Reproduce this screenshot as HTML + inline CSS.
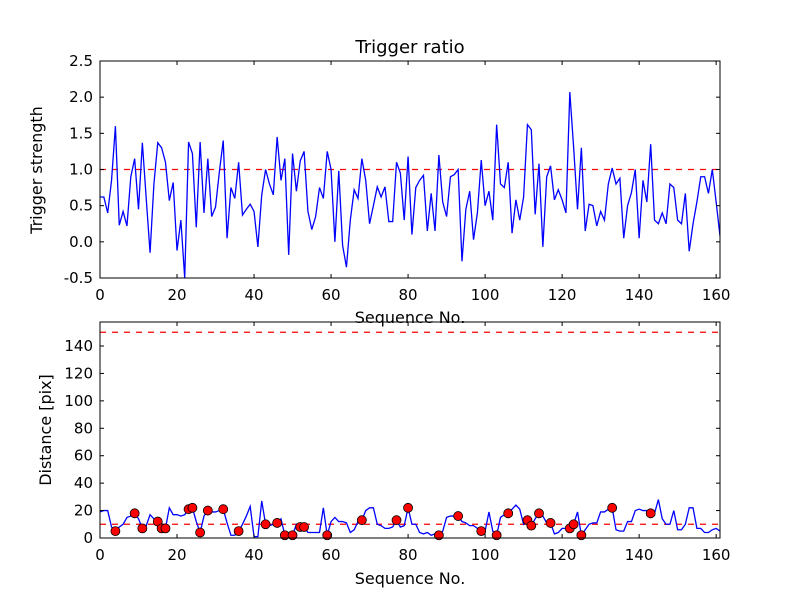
<!DOCTYPE html>
<html><head><meta charset="utf-8"><style>
body{margin:0;background:#fff;}
svg text{font-family:"DejaVu Sans","Liberation Sans",sans-serif;fill:#000;}
</style></head><body>
<svg id="c" width="800" height="600" xmlns="http://www.w3.org/2000/svg">
<rect width="800" height="600" fill="#fff"/>
</svg>
<script>
const strength=[0.62,0.62,0.4,0.85,1.6,0.23,0.42,0.22,0.9,1.15,0.45,1.37,0.6,-0.15,0.8,1.37,1.3,1.1,0.57,0.82,-0.12,0.3,-0.5,1.38,1.22,0.2,1.38,0.4,1.15,0.35,0.48,0.97,1.4,0.05,0.75,0.6,1.1,0.37,0.45,0.52,0.42,-0.07,0.65,1.0,0.8,0.65,1.45,0.85,1.15,-0.18,1.22,0.7,1.12,1.25,0.42,0.17,0.35,0.75,0.6,1.25,1.0,0.0,0.98,-0.05,-0.35,0.3,0.72,0.6,1.15,0.85,0.25,0.5,0.76,0.62,0.76,0.28,0.28,1.1,0.95,0.3,1.18,0.1,0.75,0.85,0.92,0.15,0.67,0.15,1.2,0.55,0.35,0.9,0.93,1.0,-0.27,0.45,0.7,0.03,0.4,1.13,0.5,0.7,0.3,1.62,0.8,0.75,1.1,0.12,0.58,0.3,0.62,1.62,1.55,0.38,1.08,-0.07,0.9,1.05,0.58,0.72,0.58,0.4,2.07,1.3,0.45,1.3,0.15,0.52,0.5,0.22,0.42,0.3,0.8,1.02,0.8,0.88,0.05,0.5,0.68,1.0,0.05,0.85,0.55,1.35,0.3,0.25,0.4,0.25,0.8,0.75,0.3,0.25,0.67,-0.13,0.25,0.55,0.9,0.9,0.67,1.0,0.55,0.08];
const distance=[19,20,20,8,5,8,10,15,16,18,14,7,9,17,14,12,7,7,22,17,17,16,17,21,22,12,4,16,20,19,19,20,21,11,2,2,5,10,16,23,1,1,27,10,9,10,11,14,2,3,2,10,8,8,4,4,4,4,22,2,12,15,12,12,11,4,6,12,13,20,22,22,10,9,7,7,8,13,8,9,22,10,10,4,3,4,2,3,2,5,15,16,16,16,12,11,9,9,7,5,5,19,5,2,15,17,18,21,24,21,10,13,9,14,18,16,11,11,3,4,7,7,7,10,19,2,6,10,11,11,19,19,21,22,6,5,5,12,12,20,21,20,20,18,18,28,14,10,10,20,6,6,10,22,22,7,7,4,4,6,7,5];
const flagged=[4,9,11,15,16,17,23,24,26,28,32,36,43,46,48,50,52,53,59,68,77,80,88,93,99,103,106,111,112,114,117,122,123,125,133,143];
const xTicks=[0,20,40,60,80,100,120,140,160];
const yTicks1=[-0.5,0,0.5,1,1.5,2,2.5];
const yTicks2=[0,20,40,60,80,100,120,140];
const threshold1=[1.0];
const threshold2=[10,150];

const NS="http://www.w3.org/2000/svg";
const svg=document.getElementById('c');
function mk(t,a,p){const e=document.createElementNS(NS,t);for(const k in a)e.setAttribute(k,a[k]);(p||svg).appendChild(e);return e;}
const L=100,R=720,XMAX=161;
const sx=v=>L+v/XMAX*(R-L);
const ax1={t:61,b:278,min:-0.5,max:2.5};
const ax2={t:322,b:538,min:0,max:157.5};
const sy=(a,v)=>a.b-(v-a.min)/(a.max-a.min)*(a.b-a.t);

function axes(a,yt,fmt,name){
  const g=mk('g',{});
  
  
  xTicks.forEach(v=>{const x=sx(v);
    mk('line',{x1:x,x2:x,y1:a.b,y2:a.b-4,stroke:'#000'},g);
    mk('line',{x1:x,x2:x,y1:a.t,y2:a.t+4,stroke:'#000'},g);
    const t=mk('text',{x:x,y:a.b+22,'text-anchor':'middle','font-size':'15'},g);t.textContent=v;
    
    
  });
  yt.forEach(v=>{const y=sy(a,v);
    mk('line',{x1:L,x2:L+4,y1:y,y2:y,stroke:'#000'},g);
    mk('line',{x1:R,x2:R-4,y1:y,y2:y,stroke:'#000'},g);
    const t=mk('text',{x:L-7,y:y+5,'text-anchor':'end','font-size':'15'},g);t.textContent=fmt(v);
    
    
  });
  return g;
}
function frame(a,name){const r=mk('rect',{x:L,y:a.t,width:R-L,height:a.b-a.t,fill:'none',stroke:'#000','stroke-width':1});
  
  }

// top plot
const clip1=mk('clipPath',{id:'c1'});mk('rect',{x:L,y:ax1.t,width:R-L,height:ax1.b-ax1.t},clip1);
threshold1.forEach(v=>{const l=mk('line',{x1:L,x2:R,y1:sy(ax1,v),y2:sy(ax1,v),stroke:'#f00','stroke-dasharray':'6,6','stroke-width':1.2});
  
  });
const p1=mk('polyline',{points:strength.map((v,i)=>sx(i)+','+sy(ax1,v)).join(' '),fill:'none',stroke:'#00f','stroke-width':1.3,'clip-path':'url(#c1)'});


frame(ax1,'top-plot-frame');
axes(ax1,yTicks1,v=>v.toFixed(1),'top-axes');

// bottom plot
const clip2=mk('clipPath',{id:'c2'});mk('rect',{x:L,y:ax2.t,width:R-L,height:ax2.b-ax2.t},clip2);
threshold2.forEach(v=>{const l=mk('line',{x1:L,x2:R,y1:sy(ax2,v),y2:sy(ax2,v),stroke:'#f00','stroke-dasharray':'6,6','stroke-width':1.2});
  
  });
const p2=mk('polyline',{points:distance.map((v,i)=>sx(i)+','+sy(ax2,v)).join(' '),fill:'none',stroke:'#00f','stroke-width':1.3,'clip-path':'url(#c2)'});


flagged.forEach(i=>{const c=mk('circle',{cx:sx(i),cy:sy(ax2,distance[i]),r:4.5,fill:'#f00',stroke:'#000','stroke-width':0.8});
  
  });
frame(ax2,'bottom-plot-frame');
axes(ax2,yTicks2,v=>String(v),'bottom-axes');

function txt(s,a,name){const t=mk('text',a);t.textContent=s;
  
  }
txt('Trigger ratio',{x:410,y:53,'text-anchor':'middle','font-size':'18'},'chart-title');
txt('Sequence No.',{x:410,y:323,'text-anchor':'middle','font-size':'16'},'top-x-axis-title');
txt('Sequence No.',{x:410,y:584,'text-anchor':'middle','font-size':'16'},'bottom-x-axis-title');
txt('Trigger strength',{x:0,y:0,'text-anchor':'middle','font-size':'16',transform:'translate(42,170) rotate(-90)'},'top-y-axis-title');
txt('Distance [pix]',{x:0,y:0,'text-anchor':'middle','font-size':'16',transform:'translate(51,430) rotate(-90)'},'bottom-y-axis-title');
</script>
</body></html>
